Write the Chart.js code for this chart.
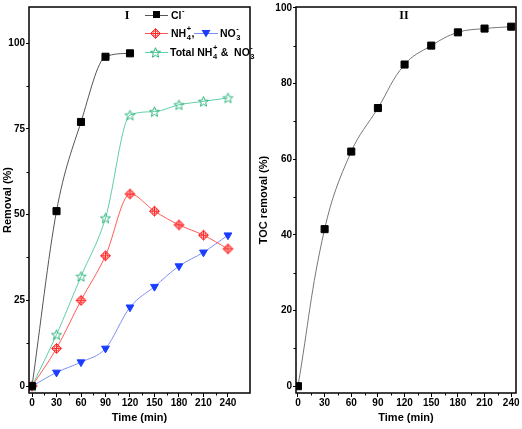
<!DOCTYPE html>
<html><head><meta charset="utf-8">
<script src="https://cdn.jsdelivr.net/npm/chart.js@4/dist/chart.umd.min.js"></script>
<style>
html,body{margin:0;padding:0;background:#fff;width:522px;height:429px;overflow:hidden}
#c1{position:absolute;left:0;top:0}
#c2{position:absolute;left:255px;top:0}
</style></head><body>
<canvas id="c1" width="258" height="429"></canvas>
<canvas id="c2" width="267" height="429"></canvas>
<script>
// ---- data ----
const timeMin=[0,30,60,90,120,150,180,210,240];
const clTime=[0,30,60,90,120];
const clRemoval=[0,51,77,96,97];
const nh4Removal=[0,11,25,38,56,51,47,44,40];
const no3Removal=[0,4,7,11,23,29,35,39,44];
const totalRemoval=[0,15,32,49,79,80,82,83,84];
const tocRemoval=[0,41.5,62,73.5,85,90,93.5,94.5,95];
const xTickLabels=[0,30,60,90,120,150,180,210,240];
const xMinorTicks=[15,45,75,105,135,165,195,225];
const leftYTicks=[0,25,50,75,100];
const leftYMinor=[12.5,37.5,62.5,87.5];
const rightYTicks=[0,20,40,60,80,100];
const rightYMinor=[10,30,50,70,90];

const FAM='"Liberation Sans", Arial, sans-serif';
const pts=(xs,ys)=>xs.map((x,i)=>({x:x,y:ys[i]}));

function mk(size,draw){const c=document.createElement('canvas');c.width=size;c.height=size;draw(c.getContext('2d'),size/2);return c;}
const diamondImg=mk(13,(g,c)=>{g.strokeStyle='#ff2a2a';g.lineWidth=1;
  g.beginPath();g.moveTo(c,c-5);g.lineTo(c+5,c);g.lineTo(c,c+5);g.lineTo(c-5,c);g.closePath();g.stroke();
  g.beginPath();g.arc(c,c,2.7,0,Math.PI*2);g.stroke();
  g.beginPath();g.moveTo(c-5,c);g.lineTo(c+5,c);g.moveTo(c,c-5);g.lineTo(c,c+5);g.stroke();});
const starImg=mk(13,(g,c)=>{g.strokeStyle='#2fb57c';g.lineWidth=1;g.beginPath();
  for(let i=0;i<10;i++){const r=i%2?2.3:5.3;const a=-Math.PI/2+i*Math.PI/5;const px=c+r*Math.cos(a),py=c+0.5+r*Math.sin(a);i?g.lineTo(px,py):g.moveTo(px,py);}
  g.closePath();g.stroke();});

function rich(ctx,parts,x,y){
  const base='bold 10.5px '+FAM, small='bold 7.5px '+FAM;
  ctx.textBaseline='middle';ctx.textAlign='left';ctx.fillStyle='#000';
  for(const p of parts){
    if(typeof p==='string'){ctx.font=base;ctx.fillText(p,x,y);x+=ctx.measureText(p).width;}
    else{ctx.font=small;let w=0;
      if(p.sub){ctx.fillText(p.sub,x+0.5,y+4);w=Math.max(w,ctx.measureText(p.sub).width);}
      if(p.sup){ctx.fillText(p.sup,x+0.5,y-5);w=Math.max(w,ctx.measureText(p.sup).width);}
      x+=w+1;}
  }
  return x;
}

function framePlugin(xMinor,yMinor){return {id:'frame',afterDatasetsDraw(chart){
  const {ctx,chartArea:a,scales}=chart;ctx.save();
  ctx.strokeStyle='#000';ctx.lineWidth=1.5;ctx.strokeRect(a.left,a.top,a.right-a.left,a.bottom-a.top);
  ctx.lineWidth=1;ctx.beginPath();
  xMinor.forEach(v=>{const px=Math.round(scales.x.getPixelForValue(v))+0.5;ctx.moveTo(px,a.bottom);ctx.lineTo(px,a.bottom+2.5);});
  yMinor.forEach(v=>{const py=Math.round(scales.y.getPixelForValue(v))+0.5;ctx.moveTo(a.left,py);ctx.lineTo(a.left-2.5,py);});
  ctx.stroke();ctx.restore();}};}

function axes(xmin,xmax,ymin,ymax,yTicks,yTitle,yWidth,yTitlePad){
  const tf={family:FAM,weight:'bold',size:10};
  const hf={family:FAM,weight:'bold',size:11};
  return {
    x:{type:'linear',min:xmin,max:xmax,
      afterBuildTicks:s=>{s.ticks=xTickLabels.map(v=>({value:v}));},
      afterFit:s=>{s.height=36;},
      ticks:{font:tf,color:'#000',padding:0,maxRotation:0,autoSkip:false,callback:(v,i)=>String(xTickLabels[i])},
      grid:{drawOnChartArea:false,tickLength:4,color:'#000',lineWidth:1},
      border:{display:false},
      title:{display:true,text:'Time (min)',font:hf,color:'#000',padding:{top:0,bottom:4}}},
    y:{type:'linear',min:ymin,max:ymax,
      afterBuildTicks:s=>{s.ticks=yTicks.map(v=>({value:v}));},
      afterFit:s=>{s.width=yWidth;},
      ticks:{font:tf,color:'#000',padding:1,autoSkip:false,callback:(v,i)=>String(yTicks[i])},
      grid:{drawOnChartArea:false,tickLength:3,color:'#000',lineWidth:1},
      border:{display:false},
      title:{display:true,text:yTitle,font:hf,color:'#000',padding:{top:yTitlePad,bottom:0}}}
  };
}

const common={animation:false,responsive:false,devicePixelRatio:1,
  plugins:{legend:{display:false},tooltip:{enabled:false}},
  elements:{line:{cubicInterpolationMode:'monotone',borderWidth:1},point:{borderWidth:1}}};

const legendPlugin={id:'leg',afterDraw(chart){
  const ctx=chart.ctx;ctx.save();
  const seg=(x1,x2,y,col)=>{ctx.strokeStyle=col;ctx.lineWidth=1;ctx.beginPath();ctx.moveTo(x1,y+0.5);ctx.lineTo(x2,y+0.5);ctx.stroke();};
  // title I
  ctx.fillStyle='#000';ctx.font='bold 12px "Liberation Serif", serif';ctx.textAlign='center';ctx.textBaseline='middle';ctx.fillText('I',127,16);
  // row1
  seg(145,168,15,'#555');ctx.fillStyle='#000';ctx.fillRect(153,11,7,7);
  rich(ctx,['Cl',{sup:'-'}],171,16);
  // row2
  seg(145,168,33,'#ff5a5a');ctx.drawImage(diamondImg,149,27);
  rich(ctx,['NH',{sub:'4',sup:'+'},','],171,34);
  seg(194,218,33,'#7d8ff0');
  ctx.fillStyle='#1a3cff';
  ctx.beginPath();ctx.moveTo(201.5,30);ctx.lineTo(210.5,30);ctx.lineTo(206,37.5);ctx.closePath();ctx.fill();
  rich(ctx,['NO',{sub:'3',sup:'-'}],220,34);
  // row3
  seg(145,168,52,'#5fcfa5');ctx.drawImage(starImg,149,46);
  rich(ctx,['Total NH',{sub:'4',sup:'+'},' &  NO',{sub:'3',sup:'-'}],170,53);
  ctx.restore();}};

new Chart(document.getElementById('c1'),{type:'line',
  data:{datasets:[
    {data:pts(clTime,clRemoval),borderColor:'#555',pointStyle:'rect',pointRadius:5,pointBackgroundColor:'#000',pointBorderColor:'#000'},
    {data:pts(timeMin,nh4Removal),borderColor:'#ff5a5a',pointStyle:diamondImg},
    {data:pts(timeMin,no3Removal),borderColor:'#7d8ff0',pointStyle:'triangle',rotation:180,pointRadius:4.5,pointBackgroundColor:'#1a3cff',pointBorderColor:'#1a3cff'},
    {data:pts(timeMin,totalRemoval),borderColor:'#5fcfa5',pointStyle:starImg}
  ]},
  options:Object.assign({},common,{layout:{padding:{top:5,right:8,left:0,bottom:0}},
    scales:axes(-3.7,267,-2,110.5,leftYTicks,'Removal (%)',29,1)}),
  plugins:[framePlugin(xMinorTicks,leftYMinor),legendPlugin]});

const label2={id:'lab2',afterDraw(chart){const ctx=chart.ctx;ctx.save();ctx.fillStyle='#000';
  ctx.font='bold 12px "Liberation Serif", serif';ctx.textAlign='center';ctx.textBaseline='middle';ctx.fillText('II',404-255,16);ctx.restore();}};

new Chart(document.getElementById('c2'),{type:'line',
  data:{datasets:[
    {data:pts(timeMin,tocRemoval),borderColor:'#777',cubicInterpolationMode:'default',tension:0.4,pointStyle:'rect',pointRadius:5,pointBackgroundColor:'#000',pointBorderColor:'#000'}
  ]},
  options:Object.assign({},common,{layout:{padding:{top:5,right:4,left:0,bottom:0}},
    scales:axes(-2.2,245.4,-1.8,100.2,rightYTicks,'TOC removal (%)',41,2)}),
  plugins:[framePlugin(xMinorTicks,rightYMinor),label2]});
</script>
</body></html>
